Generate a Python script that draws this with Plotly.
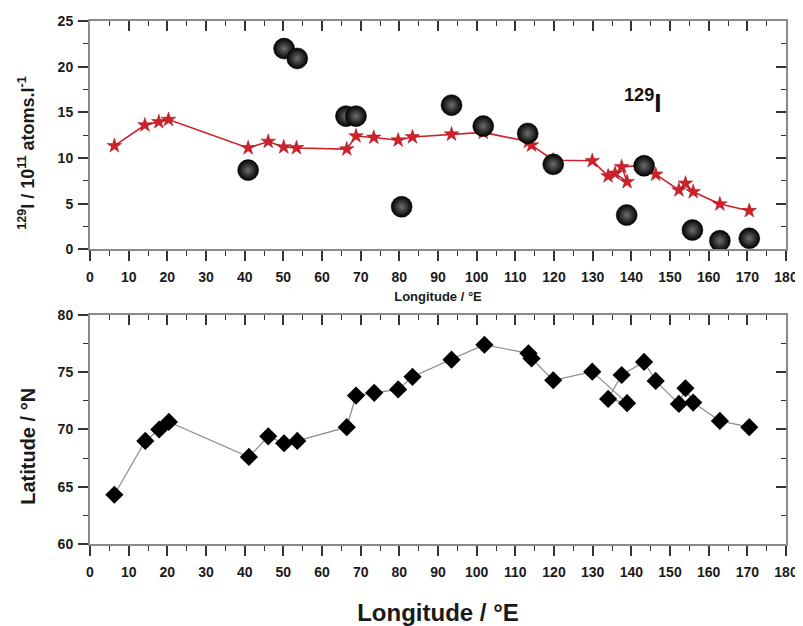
import plotly.graph_objects as go

# ---- data ----
# top panel: modelled / interpolated 129I (red stars, line), in station order
star_lon = [6.3, 14.2, 17.8, 20.3, 40.9, 46.1, 50.1, 53.4, 66.4, 68.8, 73.4, 79.7, 83.4,
            93.5, 101.7, 113.4, 114.2, 119.8, 129.9, 134.0, 135.8, 138.9, 137.5, 143.3,
            146.3, 152.3, 154.0, 156.0, 162.9, 170.5]
star_val = [11.33, 13.6, 13.95, 14.2, 11.1, 11.8, 11.2, 11.1, 10.97, 12.4, 12.25, 11.95, 12.3,
            12.6, 12.8, 11.8, 11.4, 9.75, 9.69, 8.02, 8.31, 7.39, 9.03, 9.2,
            8.2, 6.49, 7.22, 6.3, 4.95, 4.22]

# top panel: measured 129I (black spheres)
ball_lon = [40.9, 50.2, 53.6, 66.2, 68.8, 80.6, 93.5, 101.7, 113.2, 119.8, 138.8, 143.3, 155.8, 162.9, 170.5]
ball_val = [8.67, 21.98, 20.9, 14.58, 14.58, 4.66, 15.78, 13.49, 12.69, 9.3, 3.75, 9.15, 2.11, 0.94, 1.2]

# bottom panel: station latitude vs longitude (black diamonds), in station order
stn_lon = [6.3, 14.3, 17.9, 20.4, 41.1, 46.1, 50.2, 53.6, 66.4, 68.8, 73.5, 79.7, 83.4, 93.5,
           102.0, 113.4, 114.2, 119.8, 129.9, 138.9, 134.0, 137.5, 143.3, 146.3, 152.3,
           154.0, 156.0, 162.9, 170.5]
stn_lat = [64.3, 69.0, 70.0, 70.66, 67.6, 69.4, 68.8, 69.0, 70.2, 72.96, 73.2, 73.5, 74.6, 76.1,
           77.4, 76.65, 76.2, 74.3, 75.05, 72.3, 72.67, 74.76, 75.9, 74.24, 72.23,
           73.6, 72.35, 70.75, 70.2]

x_ticks = list(range(0, 181, 10))

fig = go.Figure()

fig.add_trace(go.Scatter(
    x=star_lon, y=star_val, mode="lines+markers", xaxis="x", yaxis="y",
    line=dict(color="#d0202a", width=1.6),
    marker=dict(symbol="star", size=11, color="#d0202a", line=dict(color="#a01018", width=0.5)),
    showlegend=False, hoverinfo="skip"))

fig.add_trace(go.Scatter(
    x=ball_lon, y=ball_val, mode="markers", xaxis="x", yaxis="y",
    marker=dict(size=21, color="#000000", line=dict(color="#000000", width=0.5),
                gradient=dict(type="radial", color="#6e6e6e")),
    showlegend=False, hoverinfo="skip"))

fig.add_trace(go.Scatter(
    x=stn_lon, y=stn_lat, mode="lines+markers", xaxis="x2", yaxis="y2",
    line=dict(color="#8c8c8c", width=1.2),
    marker=dict(symbol="diamond", size=14, color="#000000"),
    showlegend=False, hoverinfo="skip"))

# invisible traces so mirrored (inside-tick) axes are drawn
fig.add_trace(go.Scatter(x=ball_lon, y=ball_val, xaxis="x3", yaxis="y3", mode="markers",
                         marker=dict(opacity=0), showlegend=False, hoverinfo="skip"))
fig.add_trace(go.Scatter(x=stn_lon, y=stn_lat, xaxis="x4", yaxis="y4", mode="markers",
                         marker=dict(opacity=0), showlegend=False, hoverinfo="skip"))

tickfont = dict(family="Liberation Sans, Arial", size=14, color="#1a1a1a", weight="bold")
axcol = "#8a8a8a"
tcol = "#333333"

def xbase(anchor):
    return dict(range=[0, 180], tickvals=x_ticks, ticks="outside", ticklen=10, tickwidth=1.5,
                tickcolor=tcol, showline=True, linecolor=axcol, linewidth=2,
                showgrid=False, zeroline=False, tickfont=tickfont, automargin=False,
                ticklabelstandoff=4,
                minor=dict(dtick=5, ticks="outside", ticklen=5, tickwidth=1.2, tickcolor=tcol, showgrid=False),
                anchor=anchor)

def ybase(rng, dom, anchor):
    return dict(domain=dom, range=rng, dtick=5, ticks="outside", ticklen=10, tickwidth=1.5,
                tickcolor=tcol, showline=True, linecolor=axcol, linewidth=2, showgrid=False,
                zeroline=False, tickfont=tickfont, anchor=anchor, automargin=False,
                ticklabelstandoff=2,
                minor=dict(dtick=2.5, ticks="outside", ticklen=5, tickwidth=1.2, tickcolor=tcol, showgrid=False))

def mirror(rng, over, side, anchor, **kw):
    d = dict(range=rng, overlaying=over, side=side, anchor=anchor,
             ticks="inside", ticklen=10, tickwidth=1.5, tickcolor=tcol, showticklabels=False,
             showline=True, linecolor=axcol, linewidth=2, showgrid=False, zeroline=False,
             automargin=False)
    d.update(kw)
    return d

top_dom = [0.5635, 1.0]
bot_dom = [0.0, 0.4379]

# page body has an 8px default margin: size the figure so it fits the 803x626 window
fig.update_layout(
    width=795, height=618,
    margin=dict(l=82, r=17, t=13, b=82, autoexpand=False),
    paper_bgcolor="white", plot_bgcolor="white",
    font=dict(family="Liberation Sans, Arial", color="#1a1a1a"),
    xaxis=dict(**xbase("y"),
               title=dict(text="<b>Longitude / °E</b>", font=dict(size=13), standoff=8)),
    yaxis=dict(**ybase([0, 25], top_dom, "x")),
    xaxis2=dict(**xbase("y2"),
                title=dict(text="<b>Longitude / °E</b>", font=dict(size=24), standoff=27)),
    yaxis2=dict(**ybase([60, 80], bot_dom, "x2")),
    xaxis3=mirror([0, 180], "x", "top", "y3", tickvals=x_ticks,
                  minor=dict(dtick=5, ticks="inside", ticklen=5, tickwidth=1.2, tickcolor=tcol)),
    yaxis3=mirror([0, 25], "y", "right", "x3", dtick=5,
                  minor=dict(dtick=2.5, ticks="inside", ticklen=5, tickwidth=1.2, tickcolor=tcol)),
    xaxis4=mirror([0, 180], "x2", "top", "y4", tickvals=x_ticks,
                  minor=dict(dtick=5, ticks="inside", ticklen=5, tickwidth=1.2, tickcolor=tcol)),
    yaxis4=mirror([60, 80], "y2", "right", "x4", dtick=5,
                  minor=dict(dtick=2.5, ticks="inside", ticklen=5, tickwidth=1.2, tickcolor=tcol)),
    annotations=[
        dict(x=143, y=16.2, xref="x", yref="y", showarrow=False,
             text="<b><sup>129</sup>I</b>", font=dict(size=26, color="#111111")),
        dict(x=-0.0905, y=0.748, xref="paper", yref="paper", showarrow=False, textangle=-90,
             xanchor="center", yanchor="middle",
             text="<b><sup>129</sup>I / 10<sup>11</sup> atoms.l<sup>-1</sup></b>",
             font=dict(size=18, color="#1a1a1a")),
        dict(x=-0.089, y=0.186, xref="paper", yref="paper", showarrow=False, textangle=-90,
             xanchor="center", yanchor="middle",
             text="<b>Latitude / °N</b>", font=dict(size=20, color="#1a1a1a")),
    ],
)

fig.write_html("out.html")
